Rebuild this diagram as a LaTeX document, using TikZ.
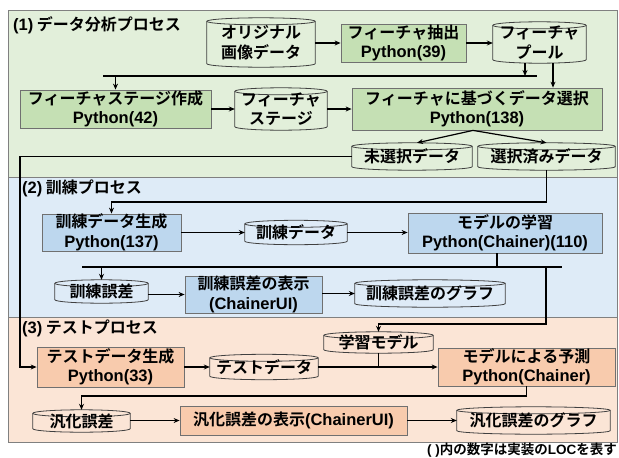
\documentclass[tikz,border=0pt]{standalone}
\usepackage{fontspec}
\setmainfont{Noto Sans CJK JP Bold}
\newfontfamily\la{Liberation Sans Bold}
\usetikzlibrary{arrows.meta,calc}
\pgfdeclarelayer{bg}\pgfdeclarelayer{mid}\pgfsetlayers{bg,mid,main}
\definecolor{gsec}{HTML}{E2EFDA}
\definecolor{gbox}{HTML}{C5E0B4}
\definecolor{bsec}{HTML}{DEEBF7}
\definecolor{bbox}{HTML}{BDD7EE}
\definecolor{osec}{HTML}{FBE5D6}
\definecolor{obox}{HTML}{F8CBAD}
\definecolor{boxline}{HTML}{707070}
\definecolor{secline}{HTML}{808080}
\definecolor{cylline}{HTML}{404040}
\newcommand\py[1]{{\la\fontsize{16.5}{19.5}\selectfont #1}}
\tikzset{
  every node/.style={font=\fontsize{16}{19.5}\selectfont, inner sep=0pt, align=center},
  sz/.style 2 args={minimum width=#1pt, minimum height=#2pt},
  gproc/.style={draw=boxline, fill=gbox, line width=0.8pt},
  bproc/.style={draw=boxline, fill=bbox, line width=0.8pt},
  oproc/.style={draw=boxline, fill=obox, line width=0.8pt},
  cyl/.style={draw=none, fill=none},
  conn/.style={line width=1.2pt, -{Stealth[length=6pt,width=5pt]}},
  plain/.style={line width=1.2pt},
  bus/.style={line width=2pt},
  sec/.style={draw=secline, line width=0.8pt},
}
\begin{document}
\begin{tikzpicture}[x=1pt,y=-1pt]
\useasboundingbox (0,0) rectangle (619,458);
% section backgrounds
\begin{pgfonlayer}{bg}
\fill[white] (0,0) rectangle (619,458);
\draw[sec, fill=gsec] (8,10) rectangle (617,177);
\draw[sec, fill=bsec] (8,177) rectangle (617,317);
\draw[sec, fill=osec] (8,317) rectangle (617,442);
\end{pgfonlayer}
% section labels
\node[anchor=west] (lab1) at (13,25) {\py{(1)} データ分析プロセス};
\node[anchor=west] (lab2) at (22,188) {\py{(2)} 訓練プロセス};
\node[anchor=west] (lab3) at (22,328) {\py{(3)} テストプロセス};
\node[anchor=east] (foot) at (617,450) {\fontsize{13.5}{16}\selectfont{\la( )}内の数字は実装の{\la LOC}を表す};
% section 1
\node[cyl, sz={108}{49}] (orig) at (261,42.5) {オリジナル\\画像データ};
\node[gproc, sz={125}{38}] (extract) at (403.5,43) {フィーチャ抽出\\\py{Python(39)}};
\node[cyl, sz={93}{41}] (pool) at (539.5,42.5) {フィーチャ\\プール};
\node[gproc, sz={191}{38}] (stagegen) at (115.5,109) {フィーチャステージ作成\\\py{Python(42)}};
\node[cyl, sz={92}{42}] (stage) at (281,109) {フィーチャ\\ステージ};
\node[gproc, sz={250}{42}] (select) at (477,109) {フィーチャに基づくデータ選択\\\py{Python(138)}};
\node[cyl, sz={120}{27}] (unsel) at (412,156.5) {未選択データ};
\node[cyl, sz={137}{27}] (sel) at (546.5,156.5) {選択済みデータ};
% section 2
\node[bproc, sz={139}{37}] (trgen) at (111.5,232.5) {訓練データ生成\\\py{Python(137)}};
\node[cyl, sz={102}{24}] (trdata) at (296,232.5) {訓練データ};
\node[bproc, sz={194}{40}] (learn) at (505,233) {モデルの学習\\\py{Python(Chainer)(110)}};
\node[cyl, sz={93}{23}] (trerr) at (101.5,291.5) {訓練誤差};
\node[bproc, sz={137}{37}] (trshow) at (253.5,294.5) {訓練誤差の表示\\\py{(ChainerUI)}};
\node[cyl, sz={150}{27}] (trgraph) at (430,293.5) {訓練誤差のグラフ};
% section 3
\node[oproc, sz={147}{40}] (tegen) at (110.5,367) {テストデータ生成\\\py{Python(33)}};
\node[cyl, sz={108}{25}] (tedata) at (264,367) {テストデータ};
\node[cyl, sz={109}{21}] (model) at (378.5,342.5) {学習モデル};
\node[oproc, sz={177}{38}] (predict) at (526.5,367) {モデルによる予測\\\py{Python(Chainer)}};
\node[cyl, sz={97}{22}] (generr) at (81.5,421) {汎化誤差};
\node[oproc, sz={227}{29}] (genshow) at (293.5,420.5) {汎化誤差の表示\py{(ChainerUI)}};
\node[cyl, sz={153}{27}] (gengraph) at (533.5,420.5) {汎化誤差のグラフ};
% cylinder outlines
\begin{pgfonlayer}{mid}
\foreach \cn/\cc in {orig/gsec,pool/gsec,stage/gsec,unsel/gsec,sel/gsec,trdata/bsec,trerr/bsec,trgraph/bsec,tedata/osec,model/osec,generr/osec,gengraph/osec}{
  \filldraw[fill=\cc, draw=cylline, line width=0.8pt] let \p1=(\cn.north west), \p2=(\cn.south east), \n1={(\x2-\x1)/2} in
    (\x1,\y1-3.5pt) -- (\x1,\y2+3.5pt) arc[start angle=180,end angle=360,x radius={\n1*1pt},y radius=3.5pt]
    -- (\x2,\y1-3.5pt) arc[start angle=0,end angle=180,x radius={\n1*1pt},y radius=3.5pt] -- cycle;
  \draw[draw=cylline, line width=0.8pt] let \p1=(\cn.north west), \p2=(\cn.south east), \n1={(\x2-\x1)/2} in
    (\x1,\y1-3.5pt) arc[start angle=180,end angle=360,x radius={\n1*1pt},y radius=3.5pt];
}
\end{pgfonlayer}
% coordinates
\coordinate (b1L) at (103,76);
\coordinate (b1R) at (537,76);
\coordinate (rail) at (20,0);
\coordinate (trbus) at (0,202);
\coordinate (b2L) at (82,267);
\coordinate (b2R) at (562,267);
\coordinate (m1) at (546,267);
\coordinate (mb) at (546,324);
\coordinate (gb) at (0,396);
% section 1 connectors
\draw[conn] (orig.east |- extract.west) -- (extract.west);
\draw[conn] (extract.east) -- (extract.east -| pool.west);
\draw[bus] (b1L) -- (b1R);
\draw[conn] ([xshift=-14.5pt]pool.south) -- ([xshift=-14.5pt]pool.south |- b1L);
\draw[conn] (stagegen.north |- b1L) -- (stagegen.north);
\draw[conn] ([xshift=13.5pt]pool.south) -- ([xshift=13.5pt]pool.south |- select.north);
\draw[conn] (stagegen.east) -- (stagegen.east -| stage.west);
\draw[conn] (stage.east) -- (stage.east -| select.west);
\draw[conn] ([xshift=-4pt]select.south) -- ([xshift=5pt]unsel.north);
\draw[conn] ([xshift=-4pt]select.south) -- (sel.north);
\draw[conn] (unsel.west) -- (unsel.west -| rail) -- (tegen.west -| rail) -- (tegen.west);
\draw[conn] (sel.south) -- (sel.south |- trbus) -- (trgen.north |- trbus) -- (trgen.north);
% section 2 connectors
\draw[conn] (trgen.east |- trdata.west) -- (trdata.west);
\draw[conn] (trdata.east) -- (trdata.east -| learn.west);
\draw[bus] (b2L) -- (b2R);
\draw[plain] ([xshift=-8pt]learn.south) -- ([xshift=-8pt]learn.south |- b2L);
\draw[conn] (trerr.north |- b2L) -- (trerr.north);
\draw[conn] (trerr.east |- trshow.west) -- (trshow.west);
\draw[conn] (trshow.east |- trgraph.west) -- (trgraph.west);
\draw[conn] (m1) -- (mb) -| (model.north);
% section 3 connectors
\draw[conn] (tegen.east) -- (tegen.east -| tedata.west);
\draw[conn] (tedata.east) -- (tedata.east -| predict.west);
\draw[plain] (model.south) -- (model.south |- tedata.east);
\draw[conn] (predict.south) -- (predict.south |- gb) -| (generr.north);
\draw[conn] (generr.east |- genshow.west) -- (genshow.west);
\draw[conn] (genshow.east) -- (genshow.east -| gengraph.west);
\end{tikzpicture}
\end{document}
